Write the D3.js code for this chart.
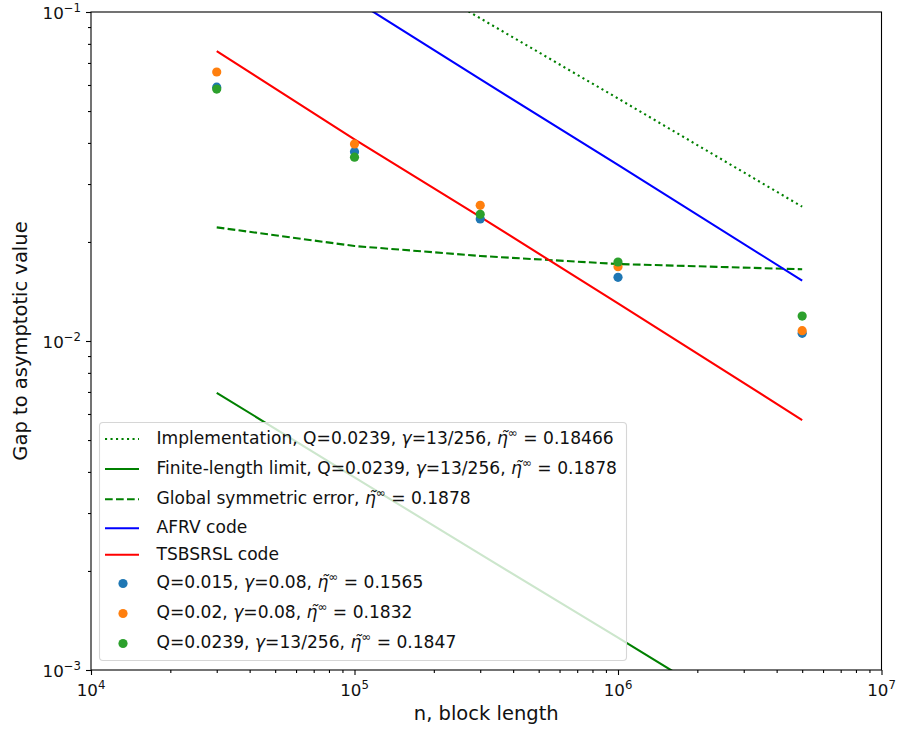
<!DOCTYPE html>
<html>
<head>
<meta charset="utf-8">
<script src="https://cdn.jsdelivr.net/npm/d3@7"></script>
<style>
  html, body { margin: 0; padding: 0; background: #fff; }
  svg { display: block; font-family: "DejaVu Sans", sans-serif; }
</style>
</head>
<body>
<svg id="chart" width="898" height="730"></svg>
<script>
// ---------- data ----------
const blockLengths = [3e4, 1e5, 3e5, 1e6, 5e6];

const implementation = [0.281, 0.160, 0.0957, 0.0546, 0.0256];
const finiteLimit    = [0.00696, 0.003852, 0.002249, 0.001254, 0.000570];
const globalSym      = [0.02215, 0.01944, 0.01813, 0.01714, 0.01652];
const afrvCode       = [0.198, 0.1087, 0.0625, 0.0343, 0.01526];
const tsbsrslCode    = [0.0761, 0.0410, 0.02383, 0.01302, 0.00575];

const dotsQ015  = [0.0591, 0.0376, 0.0235, 0.01562, 0.01055];
const dotsQ02   = [0.0657, 0.0397, 0.02585, 0.01682, 0.01075];
const dotsQ0239 = [0.0583, 0.0362, 0.02427, 0.01738, 0.01191];

const xMajorTicks = [1e4, 1e5, 1e6, 1e7];
const xTickExps   = ["4", "5", "6", "7"];
const yMajorTicks = [1e-3, 1e-2, 1e-1];
const yTickExps   = ["\u22123", "\u22122", "\u22121"];

const xLabel = "n, block length";
const yLabel = "Gap to asymptotic value";

const legendLabels = [
  "Implementation, Q=0.0239, {g}=13/256, {eta} = 0.18466",
  "Finite-length limit, Q=0.0239, {g}=13/256, {eta} = 0.1878",
  "Global symmetric error, {eta} = 0.1878",
  "AFRV code",
  "TSBSRSL code",
  "Q=0.015, {g}=0.08, {eta} = 0.1565",
  "Q=0.02, {g}=0.08, {eta} = 0.1832",
  "Q=0.0239, {g}=13/256, {eta} = 0.1847"
];

// ---------- setup ----------
const svg = d3.select("#chart");
const L = 91, R = 881.5, T = 12, B = 670;
const x = d3.scaleLog().domain([1e4, 1e7]).range([L, R]);
const y = d3.scaleLog().domain([1e-3, 1e-1]).range([B, T]);
const textColor = "#111";

svg.append("defs").append("clipPath").attr("id", "plotclip")
  .append("rect").attr("x", L).attr("y", T).attr("width", R - L).attr("height", B - T);

const lw = 2.1;
const lineSeries = [
  { data: implementation, color: "#008000", dash: "2.1,3.4" },
  { data: finiteLimit,    color: "#008000", dash: null },
  { data: globalSym,      color: "#008000", dash: "7.7,3.3" },
  { data: afrvCode,       color: "#0000ff", dash: null },
  { data: tsbsrslCode,    color: "#ff0000", dash: null }
];
const dotSeries = [
  { data: dotsQ015,  color: "#1f77b4" },
  { data: dotsQ02,   color: "#ff7f0e" },
  { data: dotsQ0239, color: "#2ca02c" }
];

const plot = svg.append("g").attr("clip-path", "url(#plotclip)");
const line = d3.line().x(d => x(d[0])).y(d => y(d[1]));

lineSeries.forEach(s => {
  plot.append("path")
    .datum(blockLengths.map((n, i) => [n, s.data[i]]))
    .attr("d", line)
    .attr("fill", "none")
    .attr("stroke", s.color)
    .attr("stroke-width", lw)
    .attr("stroke-dasharray", s.dash)
    .attr("stroke-linecap", "butt");
});

dotSeries.forEach(s => {
  plot.selectAll(null)
    .data(blockLengths.map((n, i) => [n, s.data[i]]))
    .enter().append("circle")
    .attr("cx", d => x(d[0]))
    .attr("cy", d => y(d[1]))
    .attr("r", 4.6)
    .attr("fill", s.color);
});

// ---------- axes ----------
const minorX = [];
[1e4, 1e5, 1e6].forEach(p => { for (let k = 2; k <= 9; k++) minorX.push(p * k); });
const minorY = [];
[1e-3, 1e-2].forEach(p => { for (let k = 2; k <= 9; k++) minorY.push(p * k); });

function styleAxis(g) {
  g.select(".domain").remove();
  g.selectAll(".tick line").attr("stroke", "#000").attr("stroke-width", 1.1);
  g.selectAll(".tick text").remove();
}

svg.append("g").attr("transform", `translate(0,${B})`)
  .call(d3.axisBottom(x).tickValues(minorX).tickSize(3).tickFormat(() => "")).call(styleAxis);
svg.append("g").attr("transform", `translate(0,${B})`)
  .call(d3.axisBottom(x).tickValues(xMajorTicks).tickSize(5).tickFormat(() => "")).call(styleAxis);
svg.append("g").attr("transform", `translate(${L},0)`)
  .call(d3.axisLeft(y).tickValues(minorY).tickSize(3).tickFormat(() => "")).call(styleAxis);
svg.append("g").attr("transform", `translate(${L},0)`)
  .call(d3.axisLeft(y).tickValues(yMajorTicks).tickSize(5).tickFormat(() => "")).call(styleAxis);

svg.append("rect").attr("x", L).attr("y", T).attr("width", R - L).attr("height", B - T)
  .attr("fill", "none").attr("stroke", "#000").attr("stroke-width", 1.1);

const tickFont = 16.7;
function powLabel(sel, exp) {
  sel.append("tspan").text("10");
  sel.append("tspan").attr("font-size", tickFont * 0.7).attr("dy", -7).text(exp);
}
xMajorTicks.forEach((v, i) => {
  const t = svg.append("text").attr("x", x(v)).attr("y", 696)
    .attr("text-anchor", "middle").attr("font-size", tickFont).attr("fill", textColor);
  powLabel(t, xTickExps[i]);
});
yMajorTicks.forEach((v, i) => {
  const t = svg.append("text").attr("x", 81).attr("y", y(v) + 6.5)
    .attr("text-anchor", "end").attr("font-size", tickFont).attr("fill", textColor);
  powLabel(t, yTickExps[i]);
});

svg.append("text").attr("x", (L + R) / 2).attr("y", 720)
  .attr("text-anchor", "middle").attr("font-size", 19.5).attr("fill", textColor).text(xLabel);
svg.append("text").attr("transform", `translate(27,${(T + B) / 2}) rotate(-90)`)
  .attr("text-anchor", "middle").attr("font-size", 19.5).attr("fill", textColor).text(yLabel);

// ---------- legend ----------
const lg = svg.append("g");
lg.append("rect").attr("x", 99.5).attr("y", 422.5).attr("width", 527).attr("height", 238)
  .attr("rx", 3.5).attr("fill", "#fff").attr("fill-opacity", 0.8)
  .attr("stroke", "#d6d6d6").attr("stroke-width", 1.1);

const rowBaselines = [444, 474, 504.3, 533.3, 559.7, 588, 618, 648];
const legFont = 17.1;

function richText(sel, label) {
  const parts = label.split(/(\{g\}|\{eta\})/).filter(p => p.length);
  let pendingDy = 0;
  parts.forEach(p => {
    let ts;
    if (p === "{g}") {
      ts = sel.append("tspan").attr("font-style", "italic").text("\u03b3");
    } else if (p === "{eta}") {
      ts = sel.append("tspan").attr("font-style", "italic").text("\u03b7\u0303");
    } else {
      ts = sel.append("tspan").text(p);
    }
    if (pendingDy) { ts.attr("dy", pendingDy); pendingDy = 0; }
    if (p === "{eta}") {
      sel.append("tspan").attr("font-size", legFont * 0.7).attr("dy", -7).text("\u221e");
      pendingDy = 7;
    }
  });
}

const handles = [
  { type: "line", s: lineSeries[0] },
  { type: "line", s: lineSeries[1] },
  { type: "line", s: lineSeries[2] },
  { type: "line", s: lineSeries[3] },
  { type: "line", s: lineSeries[4] },
  { type: "dot", s: dotSeries[0] },
  { type: "dot", s: dotSeries[1] },
  { type: "dot", s: dotSeries[2] }
];

legendLabels.forEach((lab, i) => {
  const by = rowBaselines[i];
  const h = handles[i];
  if (h.type === "line") {
    lg.append("line").attr("x1", 105).attr("x2", 139).attr("y1", by - 5).attr("y2", by - 5)
      .attr("stroke", h.s.color).attr("stroke-width", lw)
      .attr("stroke-dasharray", h.s.dash).attr("stroke-linecap", "butt");
  } else {
    lg.append("circle").attr("cx", 123).attr("cy", by - 4.5).attr("r", 4.6).attr("fill", h.s.color);
  }
  const t = lg.append("text").attr("x", 156.5).attr("y", by)
    .attr("font-size", legFont).attr("fill", textColor);
  richText(t, lab);
});
</script>
</body>
</html>
